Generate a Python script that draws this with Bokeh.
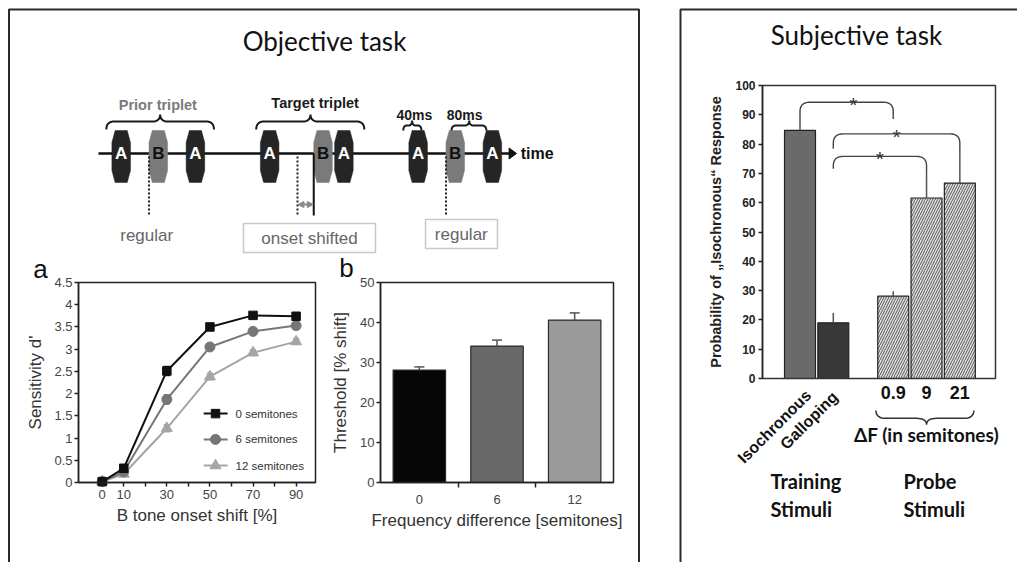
import numpy as np
from bokeh.plotting import figure
from bokeh.models import Range1d, LinearAxis, FixedTicker, NumeralTickFormatter, Arrow, NormalHead
from bokeh.core.properties import value
from bokeh.embed import file_html
from bokeh.resources import INLINE

W, H = 1017, 562

# ---------------- data: panel a (sensitivity) ----------------
onset_shift = [0, 10, 30, 50, 70, 90]
dprime_0st = [0.02, 0.32, 2.51, 3.50, 3.76, 3.74]
dprime_6st = [0.02, 0.24, 1.87, 3.05, 3.40, 3.53]
dprime_12st = [0.02, 0.19, 1.22, 2.38, 2.92, 3.17]
sem_0st = [0.02, 0.05, 0.10, 0.06, 0.05, 0.05]
sem_6st = [0.02, 0.05, 0.10, 0.07, 0.06, 0.06]
sem_12st = [0.02, 0.04, 0.08, 0.07, 0.06, 0.06]
series_names = ["0 semitones", "6 semitones", "12 semitones"]
a_yticks = [0, 0.5, 1, 1.5, 2, 2.5, 3, 3.5, 4, 4.5]
a_xticks_minor = [20, 40, 60, 80]

# ---------------- data: panel b (threshold) ----------------
freq_diff = ["0", "6", "12"]
threshold = [28.1, 34.1, 40.6]
threshold_sem = [0.8, 1.5, 1.8]
b_yticks = [0, 10, 20, 30, 40, 50]

# ---------------- data: subjective task ----------------
stimuli = ["Isochronous", "Galloping", "0.9", "9", "21"]
stim_group = ["training", "training", "probe", "probe", "probe"]
p_iso = [84.7, 19.0, 28.1, 61.6, 66.7]
p_iso_err = [3.9, 3.4, 1.7, 8.3, 10.6]
s_yticks = list(range(0, 101, 10))
sig_pairs = [(0, 2), (1, 4), (1, 3)]

# ---------------- schematic (ms) ----------------
a_onsets = [0, 160, 320, 480, 640, 800]
b_onsets = [80, 435, 720]
b_regular = [80, 400, 720]
tone_dur = 40

# ---------------- helpers ----------------
def lin_range(v0, p0, v1, p1, first, last):
    s = (v1 - v0) / (p1 - p0)
    return Range1d(start=v0 + (first - p0) * s, end=v0 + (last - p0) * s)

def xr(v0, p0, v1, p1):
    return lin_range(v0, p0, v1, p1, 0, W)

def yr(v0, p0, v1, p1):
    return lin_range(v0, p0, v1, p1, H, 0)

p = figure(width=W, height=H, x_range=Range1d(0, W), y_range=Range1d(H, 0),
           x_axis_type=None, y_axis_type=None, toolbar_location=None,
           output_backend="svg", min_border=0, outline_line_color=None,
           background_fill_color="white", border_fill_color="white")
p.min_border_left = p.min_border_right = p.min_border_top = p.min_border_bottom = 0

A_X, A_Y = (-11, 99), (0, 4.5)
B_X, B_Y = (-0.5, 2.5), (0, 50)
S_X, S_Y = (-1.126, 5.871), (0, 100)

p.extra_x_ranges = {
    "t": xr(0, 111.4, 1000, 575.4),
    "ax": xr(A_X[0], 78, A_X[1], 315),
    "bx": xr(B_X[0], 380, B_X[1], 613),
    "sx": xr(0, 799.5, 1, 832.8),
}
p.extra_y_ranges = {
    "ay": yr(A_Y[0], 482, A_Y[1], 282),
    "by": yr(B_Y[0], 482, B_Y[1], 282),
    "sy": yr(S_Y[0], 378, S_Y[1], 85),
}

def T(x, y, s, size, font="Liberation Sans", style="normal", color="#222",
      align="center", baseline="middle", angle=0.0, xn="default", yn="default"):
    xs = x if isinstance(x, list) else [x]
    ys = y if isinstance(y, list) else [y] * len(xs)
    ss = s if isinstance(s, list) else [s] * len(xs)
    p.text(x=xs, y=ys, text=ss, text_font=value(font), text_font_size=value(f"{size}px"),
           text_font_style=style, text_color=color, text_align=align,
           text_baseline=baseline, angle=angle, x_range_name=xn, y_range_name=yn)

def qpts(p0, c, p1, n=10):
    t = np.linspace(0, 1, n)
    x = (1 - t) ** 2 * p0[0] + 2 * (1 - t) * t * c[0] + t ** 2 * p1[0]
    y = (1 - t) ** 2 * p0[1] + 2 * (1 - t) * t * c[1] + t ** 2 * p1[1]
    return list(x), list(y)

def curly(x0, x1, xc, y_end, y_mid, y_tip, r):
    X, Y = [], []
    for seg in [((x0, y_end), (x0, y_mid), (x0 + r, y_mid)),
                ((xc - r, y_mid), (xc, y_mid), (xc, y_tip)),
                ((xc, y_tip), (xc, y_mid), (xc + r, y_mid)),
                ((x1 - r, y_mid), (x1, y_mid), (x1, y_end))]:
        a, b = qpts(*seg)
        X += a
        Y += b
    return X, Y

def bracket(x0, x1, yl, yr_, yh, rx, ry):
    X, Y = [x0], [yl]
    a, b = qpts((x0, yh - ry), (x0, yh), (x0 + rx, yh))
    X += a; Y += b
    a, b = qpts((x1 - rx, yh), (x1, yh), (x1, yh - ry))
    X += a; Y += b
    X.append(x1); Y.append(yr_)
    return X, Y

def style_axis(ax, tick_size, tick_bold, tick_color, label_size, label_bold,
               label_color, tick_standoff, label_standoff):
    ax.axis_line_color = "#222"
    ax.axis_line_width = 1.5
    for k in ("major", "minor"):
        setattr(ax, f"{k}_tick_line_color", "#222")
        setattr(ax, f"{k}_tick_line_width", 1.5)
        setattr(ax, f"{k}_tick_out", 4)
        setattr(ax, f"{k}_tick_in", 0)
    ax.major_label_text_font = "Liberation Sans"
    ax.major_label_text_font_size = f"{tick_size}px"
    ax.major_label_text_font_style = "bold" if tick_bold else "normal"
    ax.major_label_text_color = tick_color
    ax.major_label_standoff = tick_standoff
    ax.axis_label_text_font = "Liberation Sans"
    ax.axis_label_text_font_size = f"{label_size}px"
    ax.axis_label_text_font_style = "bold" if label_bold else "normal"
    ax.axis_label_text_color = label_color
    ax.axis_label_standoff = label_standoff

# ---------------- panel boxes & titles ----------------
p.line([8.5, 8.5, 638.5, 638.5], [H + 5, 9, 9, H + 5], line_color="#2b2b2b", line_width=2)
p.line([680, 680, W + 5], [H + 5, 9, 9], line_color="#2b2b2b", line_width=2)
T(324, 40, "Objective task", 26, font="Lato", color="#111")
T(856, 34, "Subjective task", 26, font="Lato", color="#111")

# ---------------- schematic ----------------
p.line([-29, 858], [153, 153], line_color="#111", line_width=2.5, x_range_name="t")
p.patch([856, 872, 856], [147.5, 153, 158.5], color="#111", x_range_name="t")
T(881, 153, "time", 16, style="bold", color="#111", align="left", xn="t")

def tone_shape(o):
    return ([o + 7, o + tone_dur - 7, o + tone_dur, o + tone_dur, o + tone_dur - 7, o + 7, o, o],
            [130, 130, 142, 170, 182, 182, 170, 142])

for onsets, col in ((a_onsets, "#252525"), (b_onsets, "#7a7a7a")):
    shapes = [tone_shape(o) for o in onsets]
    p.patches([s[0] for s in shapes], [s[1] for s in shapes], fill_color=col,
              line_color=col, line_width=0.5, x_range_name="t")
T([o + tone_dur / 2 for o in a_onsets], 153, "A", 17, style="bold", color="white", xn="t")
T([o + tone_dur / 2 for o in b_onsets], 153, "B", 17, style="bold", color="#111", xn="t")

p.segment(x0=b_regular, y0=[156] * 3, x1=b_regular, y1=[215] * 3, line_color="#222",
          line_width=2, line_dash="2 2", x_range_name="t")
p.segment(x0=[b_onsets[1]], y0=[153], x1=[b_onsets[1]], y1=[215], line_color="#111",
          line_width=2, x_range_name="t")
p.add_layout(Arrow(x_start=b_regular[1] + 1, y_start=204, x_end=b_onsets[1] - 1, y_end=204,
                   start=NormalHead(size=6, fill_color="#888", line_color="#888"),
                   end=NormalHead(size=6, fill_color="#888", line_color="#888"),
                   line_color="#888", line_width=2, x_range_name="t"))

T(75, 235, "regular", 17, color="#666", xn="t")
p.quad(left=[283.6, 675.9], right=[568, 831], top=[223, 219], bottom=[252, 248],
       fill_color=None, line_color="#c8c8c8", line_width=1.5, x_range_name="t")
T(426, 238, "onset shifted", 17, color="#666", xn="t")
T(753, 234, "regular", 17, color="#666", xn="t")

for (x0, x1, xc, ye, ym, yt, r) in [(-12, 220, 104, 129, 121, 114, 17),
                                     (311, 544, 428, 129, 121, 114, 17),
                                     (628, 667, 647, 130, 125, 120, 8),
                                     (732, 807, 770, 130, 125, 120, 10)]:
    bx_, by_ = curly(x0, x1, xc, ye, ym, yt, r)
    p.line(bx_, by_, line_color="#1a1a1a", line_width=2, x_range_name="t")
T(99, 104, "Prior triplet", 14.5, style="bold", color="#7a7a7a", xn="t")
T(438, 102, "Target triplet", 14.5, style="bold", color="#1a1a1a", xn="t")
T(652, 114, "40ms", 14, style="bold", color="#1a1a1a", xn="t")
T(760, 114, "80ms", 14, style="bold", color="#1a1a1a", xn="t")

# ---------------- panel a ----------------
ak = dict(x_range_name="ax", y_range_name="ay")
p.quad(left=[A_X[0]], right=[A_X[1]], bottom=[A_Y[0]], top=[A_Y[1]], fill_color=None,
       line_color="#222", line_width=1.5, **ak)
ay_axis = LinearAxis(fixed_location=A_X[0], bounds=A_Y, ticker=FixedTicker(ticks=a_yticks),
                     formatter=NumeralTickFormatter(format="0.[0]"),
                     axis_label="Sensitivity d'", **ak)
style_axis(ay_axis, 13, False, "#444", 17, False, "#333", 2, 6)
p.add_layout(ay_axis, "left")
ax_axis = LinearAxis(fixed_location=A_Y[0], bounds=A_X,
                     ticker=FixedTicker(ticks=onset_shift, minor_ticks=a_xticks_minor),
                     axis_label="B tone onset shift [%]", **ak)
style_axis(ax_axis, 13, False, "#444", 17, False, "#333", 3, 4)
p.add_layout(ax_axis, "below")

a_series = [(dprime_12st, sem_12st, "#a5a5a5", "triangle", 11),
            (dprime_6st, sem_6st, "#767676", "circle", 10),
            (dprime_0st, sem_0st, "#111111", "square", 8.5)]
for ys, es, col, mk, sz in a_series:
    p.line(onset_shift, ys, line_color=col, line_width=2, **ak)
    lo = [y - e for y, e in zip(ys, es)]
    hi = [y + e for y, e in zip(ys, es)]
    p.segment(x0=onset_shift, y0=lo, x1=onset_shift, y1=hi, line_color=col, line_width=1.5, **ak)
    for v in (lo, hi):
        p.segment(x0=[x - 1.5 for x in onset_shift], y0=v, x1=[x + 1.5 for x in onset_shift],
                  y1=v, line_color=col, line_width=1.5, **ak)
    p.scatter(onset_shift, ys, marker=mk, size=sz, fill_color=col, line_color=col, **ak)

leg_y = [1.55, 0.97, 0.38]
for (ys, es, col, mk, sz), ly, name in zip(a_series[::-1], leg_y, series_names):
    p.line([47.1, 58.2], [ly, ly], line_color=col, line_width=2, **ak)
    p.scatter([52.6], [ly], marker=mk, size=sz, fill_color=col, line_color=col, **ak)
    T(61.9, ly, name, 11.5, color="#333", align="left", xn="ax", yn="ay")
T(40, 268, "a", 26, color="#111")

# ---------------- panel b ----------------
bk = dict(x_range_name="bx", y_range_name="by")
bpos = list(range(len(freq_diff)))
p.vbar(x=bpos, top=threshold, width=0.675, bottom=0,
       fill_color=["#050505", "#686868", "#9a9a9a"], line_color="#2a2a2a", line_width=1.2, **bk)
tops = [t + e for t, e in zip(threshold, threshold_sem)]
p.segment(x0=bpos, y0=threshold, x1=bpos, y1=tops, line_color="#555", line_width=1.5, **bk)
p.segment(x0=[x - 0.065 for x in bpos], y0=tops, x1=[x + 0.065 for x in bpos], y1=tops,
          line_color="#555", line_width=1.5, **bk)
p.quad(left=[B_X[0]], right=[B_X[1]], bottom=[B_Y[0]], top=[B_Y[1]], fill_color=None,
       line_color="#222", line_width=1.5, **bk)
by_axis = LinearAxis(fixed_location=B_X[0], bounds=B_Y, ticker=FixedTicker(ticks=b_yticks),
                     axis_label="Threshold [% shift]", **bk)
style_axis(by_axis, 13, False, "#444", 17, False, "#333", 2, 7)
p.add_layout(by_axis, "left")
bx_axis = LinearAxis(fixed_location=B_Y[0], bounds=B_X,
                     ticker=FixedTicker(ticks=bpos, minor_ticks=[0.5, 1.5]),
                     major_label_overrides={i: s for i, s in enumerate(freq_diff)},
                     axis_label="Frequency difference [semitones]", **bk)
style_axis(bx_axis, 13, False, "#444", 17, False, "#333", 7, 4)
bx_axis.major_tick_out = 0
bx_axis.minor_tick_out = 5
p.add_layout(bx_axis, "below")
T(346, 267, "b", 26, color="#111")

# ---------------- subjective task ----------------
sk = dict(x_range_name="sx", y_range_name="sy")
spos = [i + (0.8 if g == "probe" else 0.0) for i, g in enumerate(stim_group)]
tr = [i for i, g in enumerate(stim_group) if g == "training"]
pr = [i for i, g in enumerate(stim_group) if g == "probe"]
p.vbar(x=[spos[i] for i in tr], top=[p_iso[i] for i in tr], width=0.93, bottom=0,
       fill_color=["#6a6a6a", "#383838"], line_color="#222", line_width=1.2, **sk)
p.vbar(x=[spos[i] for i in pr], top=[p_iso[i] for i in pr], width=0.93, bottom=0,
       fill_color="#e2e2e2", hatch_pattern="/", hatch_color="#555555", hatch_scale=5,
       hatch_weight=1.0, line_color="#222", line_width=1.2, **sk)
s_tops = [v + e for v, e in zip(p_iso, p_iso_err)]
p.segment(x0=spos, y0=p_iso, x1=spos, y1=s_tops, line_color="#555", line_width=1.5, **sk)
p.quad(left=[S_X[0]], right=[S_X[1]], bottom=[S_Y[0]], top=[S_Y[1]], fill_color=None,
       line_color="#333", line_width=1.5, **sk)
sy_axis = LinearAxis(fixed_location=S_X[0], bounds=S_Y, ticker=FixedTicker(ticks=s_yticks),
                     axis_label="Probability of \u201eIsochronous\u201c Response", **sk)
style_axis(sy_axis, 12, True, "#222", 14.5, True, "#222", 3, 8)
p.add_layout(sy_axis, "left")

sig_h = [94.3, 83.5, 75.8]
sig_free_end = [88.6, 78.4, 71.6]
for (i, j), yh, yfree in zip(sig_pairs, sig_h, sig_free_end):
    yl = s_tops[i] if i == 0 else yfree
    yr_ = s_tops[j] if j != 2 else yfree
    X, Y = bracket(spos[i], spos[j], yl, yr_, yh, 0.3, 3.2)
    p.line(X, Y, line_color="#444", line_width=1.4, **sk)
    T((spos[i] + spos[j]) / 2 + (0.2 if i == 0 else 0), yh - 0.8, "*", 21, color="#333",
      baseline="alphabetic", xn="sx", yn="sy")

T([spos[i] for i in pr], -4.8, [stimuli[i] for i in pr], 18, style="bold", color="#111",
  xn="sx", yn="sy")
T([spos[0] + 0.25, spos[1] + 0.05], [-4.8, -5.4], [stimuli[0], stimuli[1]], 16, style="bold",
  color="#111", align="right", angle=np.pi / 4, xn="sx", yn="sy")
X, Y = curly(spos[pr[0]] - 0.52, spos[pr[-1]] + 0.42, spos[pr[1]], -10.9, -13.6, -15.8, 0.3)
p.line(X, Y, line_color="#333", line_width=1.5, **sk)
T(spos[pr[1]], -19.0, "\u0394F (in semitones)", 19, font="Lato", style="bold", color="#111",
  xn="sx", yn="sy")
T(770, 480, "Training", 20, font="Lato", style="bold", color="#111", align="left")
T(770, 508, "Stimuli", 20, font="Lato", style="bold", color="#111", align="left")
T(903, 480, "Probe", 20, font="Lato", style="bold", color="#111", align="left")
T(903, 508, "Stimuli", 20, font="Lato", style="bold", color="#111", align="left")

open("out.html", "w").write(file_html(p, INLINE))
